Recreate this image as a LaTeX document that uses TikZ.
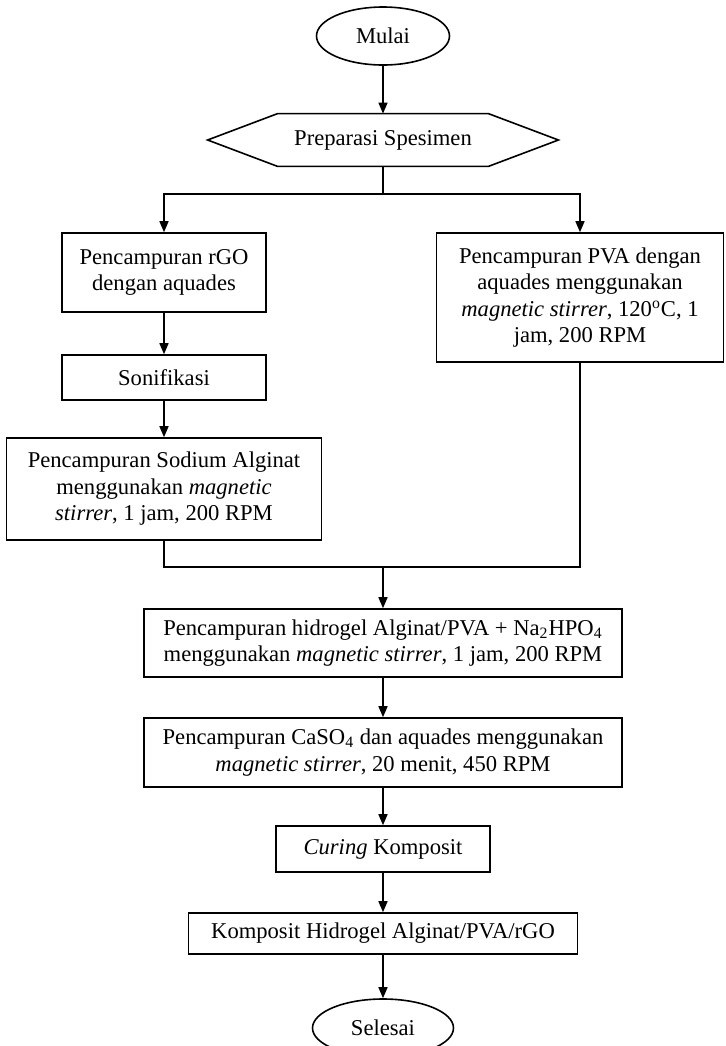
\documentclass[tikz,border=0pt]{standalone}
\usepackage{fontspec}
\setmainfont{Liberation Serif}
\usetikzlibrary{arrows.meta,shapes.geometric}
\newcommand\flowfont{\fontsize{11.3}{13.25}\selectfont}
\tikzset{
  ln/.style={line width=0.8pt},
  box/.style={draw, line width=0.8pt, align=center, inner sep=2pt, font=\flowfont},
  term/.style={draw, ellipse, line width=0.8pt, inner sep=0pt, font=\flowfont},
  arr/.style={line width=0.8pt, -{Triangle[length=5.5pt,width=4.5pt]}}
}
\begin{document}
\begin{tikzpicture}[x=0.5pt, y=-0.5pt]
\useasboundingbox (0,0) rectangle (725,1046);
\fill[white] (0,0) rectangle (725,1046);

\node[term, minimum width=66.5pt, minimum height=29pt] (mulai) at (383,36) {Mulai};
\node[minimum width=105pt, minimum height=26pt, inner sep=0pt, font=\flowfont] (prep) at (383,140) {Preparasi Spesimen};
\draw[ln] (prep.north west) -- (prep.north east) -- ([xshift=35pt]prep.east) -- (prep.south east) -- (prep.south west) -- ([xshift=-35pt]prep.west) -- cycle;
\coordinate (split) at (383,194);

\node[box, minimum width=102pt, minimum height=39.5pt] (rgo) at (164,272.5) {Pencampuran rGO\\dengan aquades};
\node[box, minimum width=102pt, minimum height=22.5pt] (soni) at (164,377.5) {Sonifikasi};
\node[box, minimum width=157.5pt, minimum height=51pt] (sod) at (164,489) {Pencampuran Sodium Alginat\\menggunakan \textit{magnetic}\\\textit{stirrer}, 1 jam, 200 RPM};
\node[box, minimum width=143.5pt, minimum height=64.5pt] (pva) at (580,297.5) {Pencampuran PVA dengan\\aquades menggunakan\\\textit{magnetic stirrer}, 120\textsuperscript{o}C, 1\\jam, 200 RPM};
\coordinate (merge) at (383,567);

\node[box, minimum width=239pt, minimum height=34pt] (hid) at (383,643) {Pencampuran hidrogel Alginat/PVA + Na\textsubscript{2}HPO\textsubscript{4}\\menggunakan \textit{magnetic stirrer}, 1 jam, 200 RPM};
\node[box, minimum width=239pt, minimum height=34.5pt] (caso) at (383,752.5) {Pencampuran CaSO\textsubscript{4} dan aquades menggunakan\\\textit{magnetic stirrer}, 20 menit, 450 RPM};
\node[box, minimum width=107pt, minimum height=23pt] (cur) at (383,849) {\textit{Curing} Komposit};
\node[box, minimum width=194.5pt, minimum height=20.5pt] (kom) at (383,933.5) {Komposit Hidrogel Alginat/PVA/rGO};
\node[term, minimum width=70.5pt, minimum height=29pt] (sel) at (383,1028) {Selesai};

\draw[arr] (mulai) -- (prep.north);
\draw[ln] (prep.south) -- (split);
\draw[arr] (split) -| (rgo.north);
\draw[arr] (split) -| (pva.north);
\draw[arr] (rgo) -- (soni);
\draw[arr] (soni) -- (sod);
\draw[ln] (sod.south) |- (merge);
\draw[ln] (pva.south) |- (merge);
\draw[arr] (merge) -- (hid);
\draw[arr] (hid) -- (caso);
\draw[arr] (caso) -- (cur);
\draw[arr] (cur) -- (kom);
\draw[arr] (kom) -- (sel);
\end{tikzpicture}
\end{document}
